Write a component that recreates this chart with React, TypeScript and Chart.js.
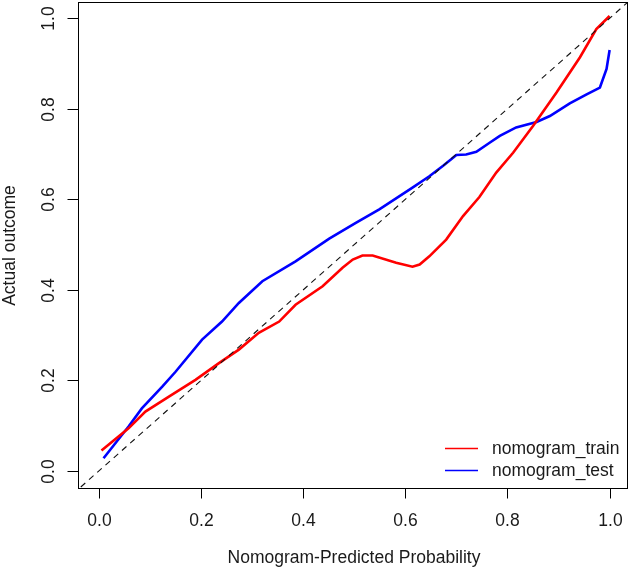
import React, { useEffect, useRef } from "react";
import { Chart, registerables } from "chart.js";

Chart.register(...registerables);

const trainX = [0.005, 0.058, 0.091, 0.137, 0.189, 0.235, 0.274, 0.313, 0.353, 0.385, 0.438, 0.477, 0.497, 0.516, 0.536, 0.582, 0.614, 0.628, 0.647, 0.680, 0.713, 0.745, 0.778, 0.811, 0.850, 0.896, 0.942, 0.974, 1.0];
const trainY = [0.045, 0.094, 0.131, 0.164, 0.201, 0.238, 0.268, 0.305, 0.330, 0.367, 0.408, 0.449, 0.467, 0.476, 0.476, 0.460, 0.451, 0.456, 0.474, 0.511, 0.563, 0.605, 0.659, 0.703, 0.762, 0.836, 0.914, 0.976, 1.005];

const testX = [0.009, 0.058, 0.084, 0.124, 0.150, 0.202, 0.241, 0.274, 0.320, 0.385, 0.451, 0.503, 0.549, 0.614, 0.647, 0.674, 0.700, 0.719, 0.739, 0.765, 0.785, 0.817, 0.857, 0.883, 0.922, 0.955, 0.981, 0.994, 1.0];
const testY = [0.028, 0.098, 0.138, 0.186, 0.219, 0.290, 0.330, 0.371, 0.419, 0.463, 0.513, 0.548, 0.578, 0.626, 0.651, 0.674, 0.698, 0.699, 0.705, 0.725, 0.740, 0.759, 0.771, 0.784, 0.812, 0.832, 0.847, 0.888, 0.930];

const diagX = [-0.1, 1.1];
const diagY = [-0.1, 1.1];

const tickValues = [0, 0.2, 0.4, 0.6, 0.8, 1.0];
const tickLabels = ["0.0", "0.2", "0.4", "0.6", "0.8", "1.0"];

const seriesNames = ["nomogram_train", "nomogram_test"];
const seriesColors = ["#FF0000", "#0000FF"];

const xTitle = "Nomogram-Predicted Probability";
const yTitle = "Actual outcome";

const FONT = '17.5px "Liberation Sans", Arial, sans-serif';
const TEXT = "#1a1a1a";

const toPoints = (xs: number[], ys: number[]) => xs.map((x, i) => ({ x, y: ys[i] }));

const rAxesPlugin = {
  id: "rAxes",
  afterDraw(chart: any) {
    const { ctx, chartArea, scales } = chart;
    const xs = scales.x;
    const ys = scales.y;
    ctx.save();
    ctx.strokeStyle = "#000";
    ctx.lineWidth = 1;
    // box
    ctx.strokeRect(chartArea.left + 0.5, chartArea.top + 0.5, chartArea.right - chartArea.left - 1, chartArea.bottom - chartArea.top - 1);
    ctx.font = FONT;
    ctx.fillStyle = TEXT;
    // x ticks
    const bottom = chartArea.bottom - 0.5;
    tickValues.forEach((v, i) => {
      const px = Math.round(xs.getPixelForValue(v)) + 0.5;
      ctx.beginPath();
      ctx.moveTo(px, bottom);
      ctx.lineTo(px, bottom + 10);
      ctx.stroke();
      ctx.textAlign = "center";
      ctx.textBaseline = "middle";
      ctx.fillText(tickLabels[i], px, 521);
    });
    // y ticks
    const left = chartArea.left + 0.5;
    tickValues.forEach((v, i) => {
      const py = Math.round(ys.getPixelForValue(v)) + 0.5;
      ctx.beginPath();
      ctx.moveTo(left, py);
      ctx.lineTo(left - 11, py);
      ctx.stroke();
      ctx.save();
      ctx.translate(49, py);
      ctx.rotate(-Math.PI / 2);
      ctx.textAlign = "center";
      ctx.textBaseline = "middle";
      ctx.fillText(tickLabels[i], 0, 0);
      ctx.restore();
    });
    // titles
    ctx.textAlign = "center";
    ctx.textBaseline = "middle";
    ctx.fillText(xTitle, (chartArea.left + chartArea.right) / 2 + 1, 558);
    ctx.save();
    ctx.translate(10, (chartArea.top + chartArea.bottom) / 2);
    ctx.rotate(-Math.PI / 2);
    ctx.fillText(yTitle, 0, 0);
    ctx.restore();
    // legend
    const legY = [448.5, 470.5];
    seriesNames.forEach((name, i) => {
      ctx.strokeStyle = seriesColors[i];
      ctx.lineWidth = 1.5;
      ctx.beginPath();
      ctx.moveTo(445, legY[i]);
      ctx.lineTo(478, legY[i]);
      ctx.stroke();
      ctx.fillStyle = TEXT;
      ctx.textAlign = "left";
      ctx.textBaseline = "middle";
      ctx.fillText(name, 492, legY[i] + 1);
    });
    ctx.restore();
  },
};

export default function App() {
  const ref = useRef<HTMLCanvasElement | null>(null);
  useEffect(() => {
    if (!ref.current) return;
    const chart = new Chart(ref.current, {
      type: "scatter",
      data: {
        datasets: [
          {
            label: "diag",
            data: toPoints(diagX, diagY),
            showLine: true,
            borderColor: "#111",
            borderWidth: 1.1,
            borderDash: [6, 5],
            pointRadius: 0,
          },
          {
            label: seriesNames[0],
            data: toPoints(trainX, trainY),
            showLine: true,
            borderColor: seriesColors[0],
            borderWidth: 2.6,
            pointRadius: 0,
            tension: 0,
          },
          {
            label: seriesNames[1],
            data: toPoints(testX, testY),
            showLine: true,
            borderColor: seriesColors[1],
            borderWidth: 2.6,
            pointRadius: 0,
            tension: 0,
          },
        ],
      },
      options: {
        animation: false,
        responsive: false,
        devicePixelRatio: 1,
        layout: { padding: { left: 78, top: 2, right: 2, bottom: 82 } },
        plugins: { legend: { display: false }, tooltip: { enabled: false } },
        scales: {
          x: { type: "linear", min: -0.041, max: 1.036, display: false },
          y: { type: "linear", min: -0.04, max: 1.036, display: false },
        },
      },
      plugins: [rAxesPlugin],
    });
    return () => chart.destroy();
  }, []);
  return (
    <div style={{ position: "fixed", left: 0, top: 0, width: 630, height: 571, background: "#fff" }}>
      <canvas ref={ref} width={630} height={571} style={{ width: 630, height: 571 }} />
    </div>
  );
}
